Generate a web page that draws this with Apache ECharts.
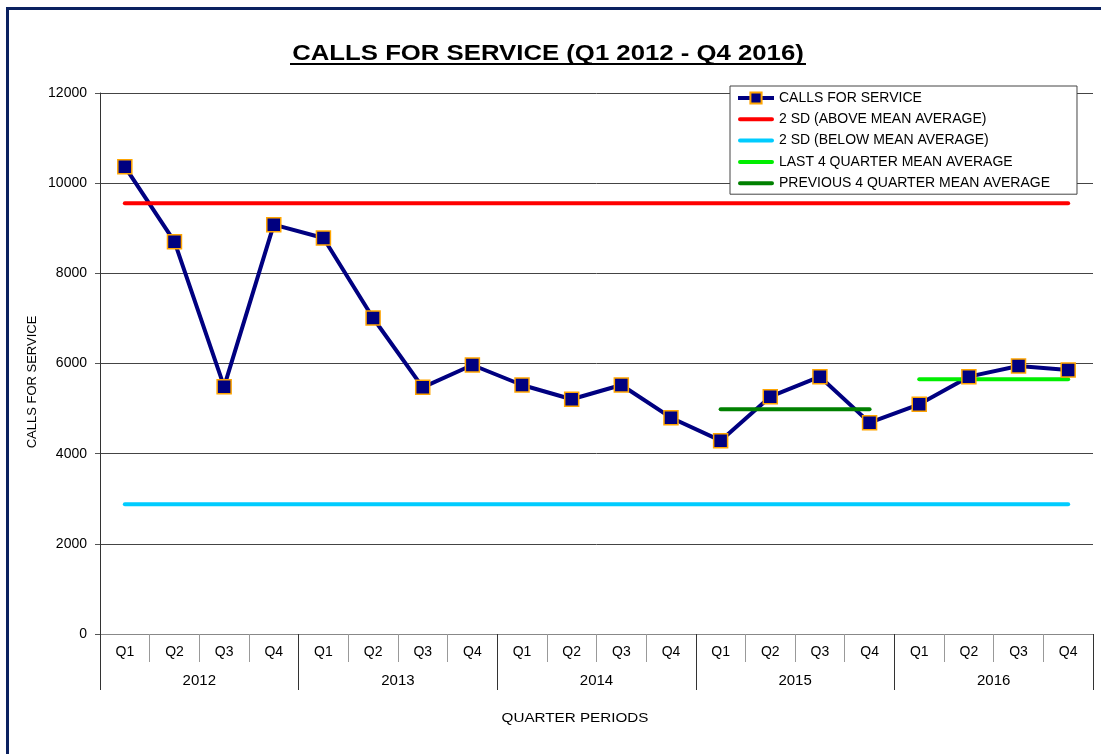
<!DOCTYPE html>
<html>
<head>
<meta charset="utf-8">
<script src="https://cdn.jsdelivr.net/npm/echarts@6/dist/echarts.min.js"></script>
<style>
html,body{margin:0;padding:0;background:#fff;}
#chart{width:1101px;height:754px;}
</style>
</head>
<body>
<div id="chart"></div>
<script>
// ---- data ----
const quarters = ['Q1','Q2','Q3','Q4','Q1','Q2','Q3','Q4','Q1','Q2','Q3','Q4','Q1','Q2','Q3','Q4','Q1','Q2','Q3','Q4'];
const years = ['2012','2013','2014','2015','2016'];
const callsForService = [10366, 8702, 5486, 9079, 8784, 7010, 5472, 5967, 5523, 5206, 5523, 4798, 4288, 5264, 5708, 4688, 5095, 5708, 5945, 5856];
const sdAbove = 9555;
const sdBelow = 2880;
const last4Mean = 5651;
const prev4Mean = 4987;
const fullRange = [0, 19];
const last4Range = [16, 19];
const prev4Range = [12, 15];
const seriesNames = ['CALLS FOR SERVICE','2 SD (ABOVE MEAN AVERAGE)','2 SD (BELOW MEAN AVERAGE)','LAST 4 QUARTER MEAN AVERAGE','PREVIOUS 4 QUARTER MEAN AVERAGE'];
const titleText = 'CALLS FOR SERVICE (Q1 2012 - Q4 2016)';
const yAxisTitle = 'CALLS FOR SERVICE';
const xAxisTitle = 'QUARTER PERIODS';

const FONT = 'Arial, "Liberation Sans", sans-serif';
// thin bar legend icon (bounding box 36x14, visible strip 4px in the middle)
const LINE_ICON = 'path://M0,0 L0,0 L0,0 Z M36,14 L36,14 L36,14 Z M2,5 L34,5 A2,2 0 0 1 34,9 L2,9 A2,2 0 0 1 2,5 Z';
function hline(range, v) { return [[range[0], v], [range[1], v]]; }
function flatSeries(name, color, range, v) {
  return {
    name: name, type: 'line', xAxisIndex: 0, yAxisIndex: 0,
    data: hline(range, v), symbol: 'none', silent: true,
    lineStyle: { color: color, width: 4, cap: 'round' },
    itemStyle: { color: color }
  };
}

const chart = echarts.init(document.getElementById('chart'), null, { renderer: 'canvas' });
chart.setOption({
  animation: false,
  backgroundColor: '#ffffff',
  grid: { left: 100, right: 8, top: 93, bottom: 120, containLabel: false },
  legend: {
    orient: 'vertical', left: 730, top: 86,
    padding: [5, 27, 4, 6],
    itemWidth: 36, itemHeight: 14, itemGap: 7.3,
    backgroundColor: '#fff', borderColor: '#444', borderWidth: 1,
    lineStyle: { width: 'inherit' },
    textStyle: { fontFamily: FONT, fontSize: 14, lineHeight: 14, color: '#000' },
    data: [
      { name: seriesNames[0] },
      { name: seriesNames[1], icon: LINE_ICON },
      { name: seriesNames[2], icon: LINE_ICON },
      { name: seriesNames[3], icon: LINE_ICON },
      { name: seriesNames[4], icon: LINE_ICON }
    ]
  },
  xAxis: [
    {
      type: 'category', data: quarters, position: 'bottom', boundaryGap: true,
      axisLine: { show: true, lineStyle: { color: '#888', width: 1 } },
      axisTick: { show: true, interval: 0, length: 28, lineStyle: { color: '#999' } },
      axisLabel: { interval: 0, margin: 11, fontFamily: FONT, fontSize: 14, color: '#000' },
      splitLine: { show: false }
    },
    {
      type: 'category', data: years, position: 'bottom', boundaryGap: true,
      axisLine: { show: false },
      axisTick: { show: true, interval: 0, length: 56, lineStyle: { color: '#333' } },
      axisLabel: { interval: 0, margin: 39, fontFamily: FONT, fontSize: 15, color: '#000' },
      splitLine: { show: false }
    }
  ],
  yAxis: {
    type: 'value', min: 0, max: 12000, interval: 2000,
    axisLine: { show: true, lineStyle: { color: '#333' } },
    axisTick: { show: true, length: 5, lineStyle: { color: '#555' } },
    axisLabel: { margin: 13, fontFamily: FONT, fontSize: 14, color: '#000', formatter: function (v) { return String(v); } },
    splitLine: { show: true, lineStyle: { color: '#444', width: 1 } }
  },
  graphic: [
    { type: 'rect', silent: true, z: 100,
      shape: { x: 7.5, y: 8.5, width: 1200, height: 1000 },
      style: { fill: null, stroke: '#0B2160', lineWidth: 3 } },
    { type: 'text', silent: true, x: 548, y: 54, scaleX: 1.17,
      style: { text: titleText, font: 'bold 22px ' + FONT, fill: '#000', align: 'center', verticalAlign: 'middle' } },
    { type: 'rect', silent: true,
      shape: { x: 290, y: 63, width: 516, height: 2 },
      style: { fill: '#000' } },
    { type: 'text', silent: true, x: 575, y: 718, scaleX: 1.17,
      style: { text: xAxisTitle, font: '13px ' + FONT, fill: '#000', align: 'center', verticalAlign: 'middle' } },
    { type: 'text', silent: true, x: 32, y: 382, rotation: Math.PI / 2,
      style: { text: yAxisTitle, font: '13px ' + FONT, fill: '#000', align: 'center', verticalAlign: 'middle' } }
  ],
  series: [
    {
      name: seriesNames[0], type: 'line', xAxisIndex: 0, yAxisIndex: 0,
      data: callsForService,
      symbol: 'rect', symbolSize: 14,
      lineStyle: { color: '#000080', width: 4 },
      itemStyle: { color: '#000080', borderColor: '#FFA500', borderWidth: 1.5 }
    },
    flatSeries(seriesNames[1], '#FF0000', fullRange, sdAbove),
    flatSeries(seriesNames[2], '#00CCFF', fullRange, sdBelow),
    flatSeries(seriesNames[3], '#00EE00', last4Range, last4Mean),
    flatSeries(seriesNames[4], '#008000', prev4Range, prev4Mean)
  ]
});
</script>
</body>
</html>
